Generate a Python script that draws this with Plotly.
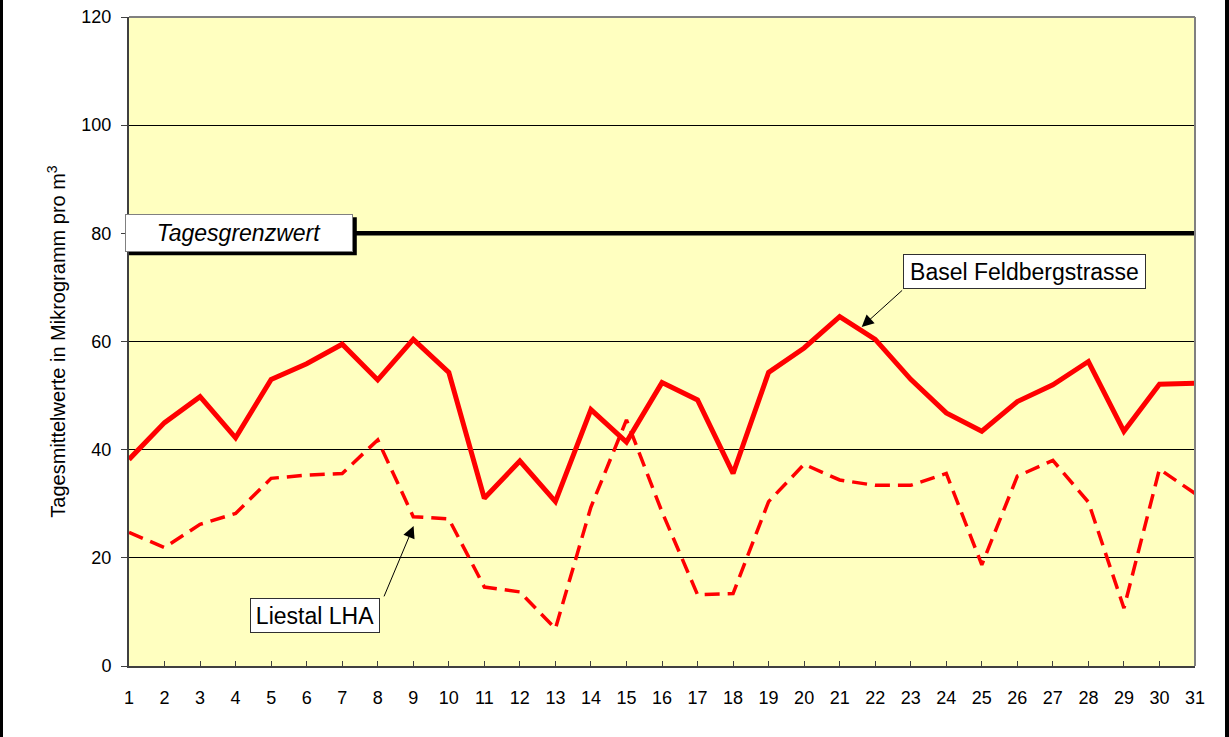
import plotly.graph_objects as go

days = list(range(1, 32))
basel = [38.2, 45.0, 49.8, 42.2, 53.0, 55.9, 59.5, 52.9, 60.4, 54.3, 31.0, 37.9, 30.4, 47.4, 41.4,
         52.4, 49.2, 35.6, 54.3, 58.8, 64.6, 60.4, 53.0, 46.8, 43.4, 48.9, 52.0, 56.3, 43.4, 52.1, 52.3]
liestal = [24.7, 21.9, 26.2, 28.2, 34.7, 35.3, 35.6, 41.8, 27.6, 27.2, 14.6, 13.7, 6.9, 29.4, 45.5,
           28.5, 13.2, 13.4, 30.4, 37.3, 34.4, 33.4, 33.4, 35.6, 18.7, 35.1, 38.0, 30.3, 10.7, 36.4, 31.9]
grenzwert = 80
y_ticks = [0, 20, 40, 60, 80, 100, 120]

FONT = "Liberation Sans, Arial, sans-serif"
W, H = 1229, 737
L, R, T, B = 129, 34, 17, 71
pw = W - L - R


def px_to_paper(px):
    return (px - L) / pw


fig = go.Figure()
fig.add_trace(go.Scatter(x=[days[0], days[-1]], y=[grenzwert, grenzwert], mode="lines",
                         line=dict(color="black", width=4.5), hoverinfo="skip"))
fig.add_trace(go.Scatter(x=days, y=liestal, mode="lines", name="Liestal LHA",
                         line=dict(color="#FF0000", width=3.5, dash="15px,8px")))
fig.add_trace(go.Scatter(x=days, y=basel, mode="lines", name="Basel Feldbergstrasse",
                         line=dict(color="#FF0000", width=5)))

# shadow of the Tagesgrenzwert box (pixel-sized rectangle anchored at the label position)
fig.add_shape(type="rect", xref="x", yref="y", xsizemode="pixel", ysizemode="pixel",
              xanchor=4.09, yanchor=grenzwert, x0=-110, x1=118, y0=-22, y1=16,
              fillcolor="black", line=dict(width=0), layer="above")
fig.add_annotation(x=4.09, y=grenzwert, xref="x", yref="y", text="<i>Tagesgrenzwert</i>",
                   showarrow=False, bgcolor="white", bordercolor="#808080", borderwidth=1, borderpad=0,
                   width=226, height=36,
                   font=dict(family=FONT, size=23, color="black"))

# Basel label + arrow
fig.add_annotation(x=26.21, y=72.95, xref="x", yref="y", text="Basel Feldbergstrasse",
                   showarrow=False, bgcolor="white", bordercolor="#303030", borderwidth=1, borderpad=0,
                   width=241, height=33, font=dict(family=FONT, size=23, color="black"))
fig.add_annotation(x=21.62, y=62.7, xref="x", yref="y", ax=22.80, ay=69.7, axref="x", ayref="y",
                   text="", showarrow=True, arrowhead=2, arrowsize=2.4, arrowwidth=1, arrowcolor="black")

# Liestal label + arrow
fig.add_annotation(x=6.23, y=9.43, xref="x", yref="y", text="Liestal LHA",
                   showarrow=False, bgcolor="white", bordercolor="#303030", borderwidth=1, borderpad=0,
                   width=128, height=33, font=dict(family=FONT, size=23, color="black"))
fig.add_annotation(x=9.01, y=25.9, xref="x", yref="y", ax=8.16, ay=12.6, axref="x", ayref="y",
                   text="", showarrow=True, arrowhead=2, arrowsize=2.4, arrowwidth=1, arrowcolor="black")

# plot border (top/right) in gray
fig.add_shape(type="line", xref="paper", yref="paper", x0=0, x1=1, y0=1, y1=1,
              line=dict(color="#808080", width=2), layer="above")
fig.add_shape(type="line", xref="paper", yref="paper", x0=1, x1=1, y0=0, y1=1,
              line=dict(color="#808080", width=2), layer="above")
# outer frame lines left and right
fig.add_shape(type="line", xref="paper", yref="paper", x0=px_to_paper(1.5), x1=px_to_paper(1.5),
              y0=-0.2, y1=1.2, line=dict(color="black", width=3))
fig.add_shape(type="line", xref="paper", yref="paper", x0=px_to_paper(1227), x1=px_to_paper(1227),
              y0=-0.2, y1=1.2, line=dict(color="black", width=4))

fig.update_layout(
    width=W, height=H,
    margin=dict(l=L, r=R, t=T, b=B, autoexpand=False),
    paper_bgcolor="white", plot_bgcolor="#FFFFC0",
    showlegend=False,
    font=dict(family=FONT, size=18, color="black"),
)
fig.update_xaxes(range=[1, 31], tickmode="array", tickvals=days, ticktext=[str(d) for d in days],
                 ticks="inside", ticklen=5, tickcolor="#404040", showline=True, linecolor="#404040",
                 linewidth=2, showgrid=False, zeroline=False, ticklabelstandoff=14,
                 tickfont=dict(family=FONT, size=18, color="black"))
fig.update_yaxes(range=[0, 120], tickmode="array", tickvals=y_ticks, ticks="outside", ticklen=6,
                 tickcolor="#404040", showline=True, linecolor="#404040", linewidth=2,
                 showgrid=True, gridcolor="black", gridwidth=1, zeroline=False, ticklabelstandoff=6,
                 tickfont=dict(family=FONT, size=18, color="black"),
                 title=dict(text="Tagesmittelwerte in Mikrogramm pro m<sup>3</sup>", standoff=10,
                            font=dict(family=FONT, size=20, color="black")))

fig.write_html("out.html", config={"displayModeBar": False},
               post_script="document.body.style.margin='0';document.body.style.overflow='hidden';")
